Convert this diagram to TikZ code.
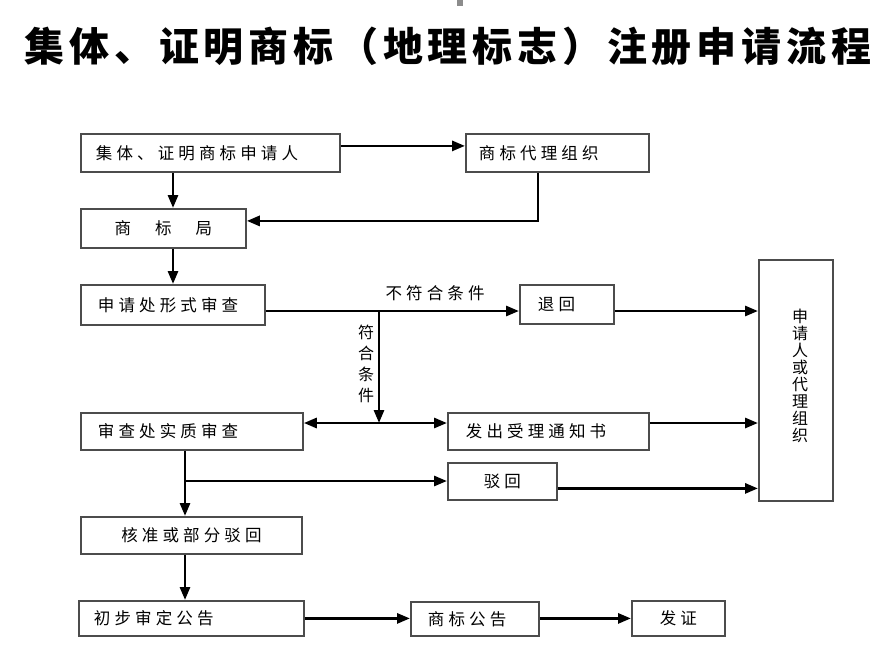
\documentclass[tikz,border=0pt]{standalone}
\usepackage{fontspec}
\usetikzlibrary{arrows.meta,positioning}
\newfontfamily\cjk{Noto Sans CJK SC}
\newfontfamily\cjkwide[LetterSpace=25]{Noto Sans CJK SC}
\newfontfamily\cjktitle[LetterSpace=12]{Noto Sans CJK SC}
\newcommand\boxfont{\cjkwide\fontsize{16.5}{19}\selectfont}
\newcommand\colfont{\cjk\fontsize{16}{17}\selectfont}

\tikzset{
  box/.style={draw=black!70, line width=1.8pt, anchor=north west,
    inner xsep=15pt, inner ysep=0pt, align=left, font=\boxfont},
  cbox/.style={box, align=center},
  arr/.style={line width=2.8pt, -{Triangle[length=13pt,width=10pt]}},
}

\begin{document}
\begin{tikzpicture}[x=1pt,y=-1pt]
  \useasboundingbox (0,0) rectangle (890,657);
  \fill[black!45] (457,0) rectangle (463,6);

  % title
  \node[font=\cjktitle\bfseries\fontsize{40}{44}\selectfont] (title) at (448,46)
    {集体、证明商标（地理标志）注册申请流程};

  % boxes
  \node[box, text width=229pt, minimum height=38pt] (applicant) at (80,133) {集体、证明商标申请人};
  \node[box, text width=157pt, inner xsep=13pt, minimum height=38pt] (agency) at (465,133) {商标代理组织};
  \node[cbox, text width=135pt, minimum height=39pt] (bureau) at (80,208) {商\hspace{24pt}标\hspace{24pt}局};
  \node[box, text width=150pt, inner xsep=17pt, minimum height=40pt] (formal) at (80,284) {申请处形式审查};
  \node[box, text width=58pt, inner xsep=18pt, minimum height=39pt] (returned) at (519,284) {退回};
  \node[draw=black!70, line width=1.8pt, anchor=north west, minimum width=74pt,
    minimum height=241pt] (contact) at (758,259) {};
  \node[align=center, font=\colfont] (contactlabel) at (800,376)
    {申\\请\\人\\或\\代\\理\\组\\织};
  \node[box, text width=188pt, inner xsep=17pt, minimum height=37pt] (substantive) at (80,412) {审查处实质审查};
  \node[box, text width=165pt, inner xsep=18pt, minimum height=37pt] (notice) at (447,412) {发出受理通知书};
  \node[cbox, text width=79pt, minimum height=37pt] (reject) at (447,462) {驳回};
  \node[cbox, text width=191pt, minimum height=37pt] (approval) at (80,516) {核准或部分驳回};
  \node[box, text width=195pt, minimum height=35pt] (prelim) at (78,600) {初步审定公告};
  \node[box, text width=94pt, inner xsep=17pt, minimum height=34pt] (publish) at (410,601) {商标公告};
  \node[cbox, text width=63pt, minimum height=35pt] (cert) at (631,600) {发证};

  % labels
  \node[font=\boxfont] (fail) at (435,293) {不符合条件};
  \node[align=center, font=\colfont] (pass) at (366,364)
    {符\\[4pt]合\\[4pt]条\\[4pt]件};

  % columns and forks
  \coordinate (colA) at (173,0);
  \coordinate (colB) at (538,0);
  \coordinate (colC) at (185,0);
  \coordinate (fork) at (379,311);
  \coordinate (split) at (379,423);
  \coordinate (branch) at (185,481);

  % connectors
  \draw[arr] ([yshift=7pt]applicant.east) -- ([yshift=7pt]agency.west);
  \draw[arr] (applicant.south -| colA) -- (bureau.north -| colA);
  \draw[arr] (agency.south -| colB) |- ([yshift=7.5pt]bureau.east);
  \draw[arr] (bureau.south -| colA) -- (formal.north -| colA);
  \draw[arr] (formal.east |- fork) -- (returned.west |- fork);
  \draw[arr] (fork) -- (split);
  \draw[arr] (split) -- (substantive.east |- split);
  \draw[arr] (split) -- (notice.west |- split);
  \draw[arr] (returned.east |- fork) -- (contact.west |- fork);
  \draw[arr] (notice.east |- split) -- (contact.west |- split);
  \draw[arr] ([yshift=-7pt]reject.east) -- ([yshift=-7pt]reject.east -| contact.west);
  \draw[arr] (substantive.south -| colC) -- (approval.north -| colC);
  \draw[arr] (branch) -- (reject.west |- branch);
  \draw[arr] (approval.south -| colC) -- (prelim.north -| colC);
  \draw[arr] (prelim.east) -- (publish.west |- prelim.east);
  \draw[arr] (publish.east |- prelim.east) -- (cert.west |- prelim.east);
\end{tikzpicture}
\end{document}
